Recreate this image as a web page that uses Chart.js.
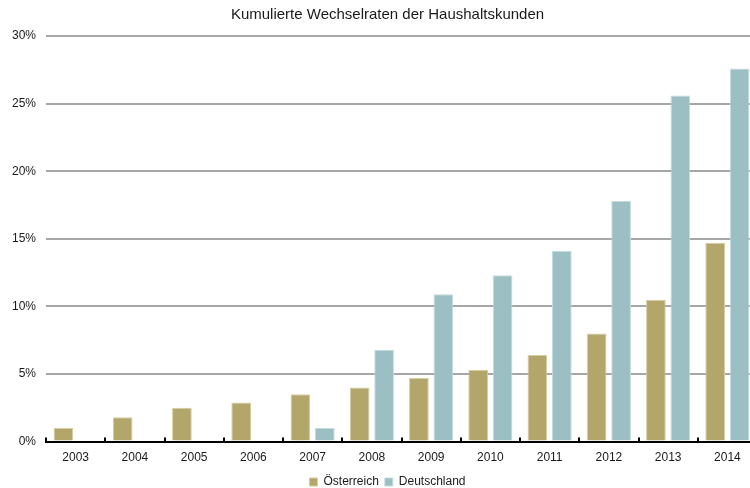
<!DOCTYPE html>
<html>
<head>
<meta charset="utf-8">
<script src="https://cdn.jsdelivr.net/npm/chart.js@4/dist/chart.umd.min.js"></script>
<style>
  html, body { margin: 0; padding: 0; background: #fff; overflow: hidden; width: 750px; height: 488px; }
  #wrap { position: relative; width: 773px; height: 488px; }
</style>
</head>
<body>
<div id="wrap"><canvas id="c" width="773" height="488"></canvas></div>
<script>
const categories = ['2003','2004','2005','2006','2007','2008','2009','2010','2011','2012','2013','2014'];
const oesterreich = [1.0, 1.8, 2.5, 2.9, 3.5, 4.0, 4.7, 5.3, 6.4, 8.0, 10.5, 14.7];
const deutschland = [null, null, null, null, 1.0, 6.8, 10.9, 12.3, 14.1, 17.8, 25.6, 27.6];
const seriesNames = ['Österreich', 'Deutschland'];
const chartTitle = 'Kumulierte Wechselraten der Haushaltskunden';

Chart.defaults.font.family = '"Liberation Sans", Arial, sans-serif';
Chart.defaults.color = '#1a1a1a';

// inward tick marks at category boundaries (like the reference)
const innerTicks = {
  id: 'innerTicks',
  afterDatasetsDraw(chart) {
    const x = chart.scales.x;
    const ctx = chart.ctx;
    const bottom = chart.chartArea.bottom;
    const n = chart.data.labels.length;
    const half = (x.getPixelForValue(1) - x.getPixelForValue(0)) / 2;
    ctx.save();
    ctx.strokeStyle = '#000';
    ctx.lineWidth = 2;
    ctx.beginPath();
    for (let i = 0; i <= n; i++) {
      const px = Math.round(x.getPixelForValue(i) - half);
      ctx.moveTo(px, bottom - 4);
      ctx.lineTo(px, bottom + 1);
    }
    ctx.stroke();
    ctx.restore();
  }
};

new Chart(document.getElementById('c'), {
  type: 'bar',
  data: {
    labels: categories,
    datasets: [
      { label: seriesNames[0], data: oesterreich, backgroundColor: '#b3a66b', borderColor: '#d6cda2', borderWidth: 1, borderSkipped: 'start' },
      { label: seriesNames[1], data: deutschland, backgroundColor: '#9bbfc3', borderColor: '#c4dcdf', borderWidth: 1, borderSkipped: 'start' }
    ]
  },
  plugins: [innerTicks],
  options: {
    responsive: false,
    animation: false,
    devicePixelRatio: 1,
    categoryPercentage: 0.825,
    barPercentage: 0.806,
    layout: { padding: { left: 2, right: 0, top: 4, bottom: -10 } },
    plugins: {
      title: { display: true, text: chartTitle, font: { size: 15, weight: 'normal' }, color: '#1a1a1a', padding: { top: 2, bottom: 12 } },
      legend: {
        position: 'bottom',
        labels: { boxWidth: 8, boxHeight: 8, font: { size: 12 }, color: '#1a1a1a', padding: 6 }
      },
      tooltip: { enabled: false }
    },
    scales: {
      x: {
        grid: { display: true, drawOnChartArea: false, drawTicks: true, tickLength: 4, color: 'rgba(0,0,0,0)', lineWidth: 2, offset: true },
        border: { display: true, color: '#000', width: 2 },
        ticks: { font: { size: 12 }, color: '#1a1a1a', padding: 5 }
      },
      y: {
        min: 0, max: 30,
        ticks: { stepSize: 5, callback: v => v + '%', font: { size: 12 }, color: '#1a1a1a', padding: 10 },
        grid: { color: '#a6a6a6', lineWidth: 2, drawTicks: false },
        border: { display: false }
      },
      yRightSpace: {
        position: 'right',
        display: true,
        min: 0, max: 30,
        grid: { display: false, drawTicks: false },
        border: { display: false },
        ticks: { display: false },
        afterFit: s => { s.width = 16; }
      }
    }
  }
});
</script>
</body>
</html>
